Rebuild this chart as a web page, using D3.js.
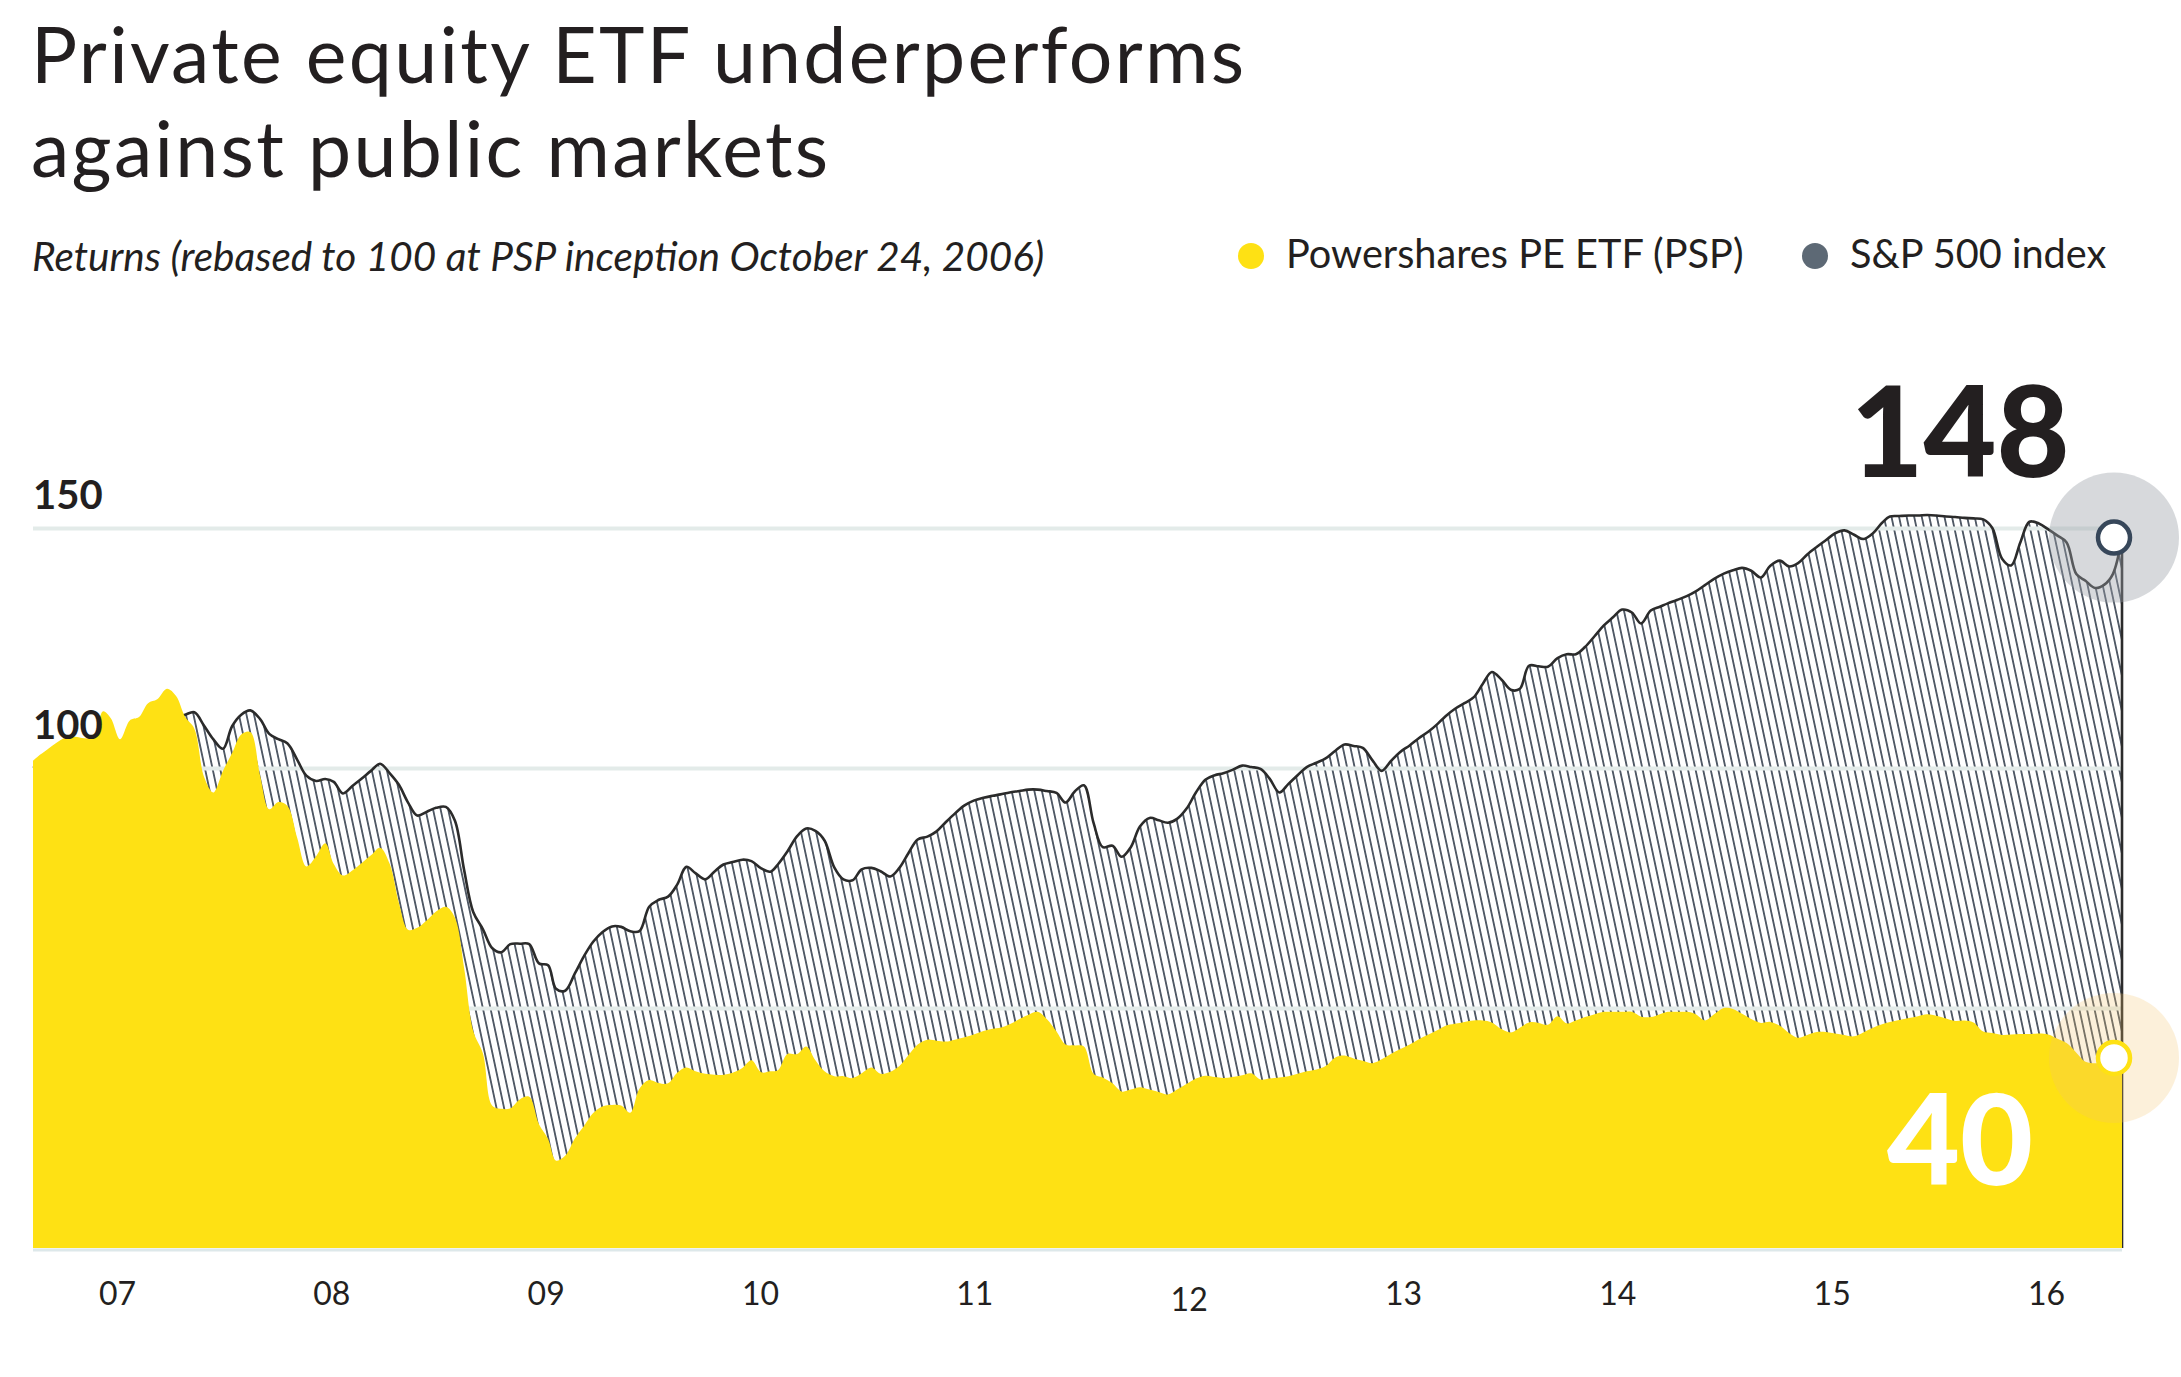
<!DOCTYPE html>
<html>
<head>
<meta charset="utf-8">
<script src="https://cdn.jsdelivr.net/npm/d3@7"></script>
<style>
  body { margin: 0; background: #fff; }
  svg { display: block; font-family: Lato, "Open Sans", sans-serif; }
</style>
</head>
<body>
<script>
// semi-monthly observations, rebased to 100 at PSP inception (Oct 24, 2006)
const dates = [
  "2006-10-24","2006-11-01","2006-11-16","2006-12-01","2006-12-16",
  "2007-01-01","2007-01-16","2007-02-01","2007-02-16","2007-03-01","2007-03-16","2007-04-01","2007-04-16","2007-05-01","2007-05-16","2007-06-01","2007-06-16",
  "2007-07-01","2007-07-16","2007-08-01","2007-08-16","2007-09-01","2007-09-16","2007-10-01","2007-10-16","2007-11-01","2007-11-16","2007-12-01","2007-12-16",
  "2008-01-01","2008-01-16","2008-02-01","2008-02-16","2008-03-01","2008-03-16","2008-04-01","2008-04-16","2008-05-01","2008-05-16","2008-06-01","2008-06-16",
  "2008-07-01","2008-07-16","2008-08-01","2008-08-16","2008-09-01","2008-09-16","2008-10-01","2008-10-16","2008-11-01","2008-11-16","2008-12-01","2008-12-16",
  "2009-01-01","2009-01-16","2009-02-01","2009-02-16","2009-03-01","2009-03-16","2009-04-01","2009-04-16","2009-05-01","2009-05-16","2009-06-01","2009-06-16",
  "2009-07-01","2009-07-16","2009-08-01","2009-08-16","2009-09-01","2009-09-16","2009-10-01","2009-10-16","2009-11-01","2009-11-16","2009-12-01","2009-12-16",
  "2010-01-01","2010-01-16","2010-02-01","2010-02-16","2010-03-01","2010-03-16","2010-04-01","2010-04-16","2010-05-01","2010-05-16","2010-06-01","2010-06-16",
  "2010-07-01","2010-07-16","2010-08-01","2010-08-16","2010-09-01","2010-09-16","2010-10-01","2010-10-16","2010-11-01","2010-11-16","2010-12-01","2010-12-16",
  "2011-01-01","2011-01-16","2011-02-01","2011-02-16","2011-03-01","2011-03-16","2011-04-01","2011-04-16","2011-05-01","2011-05-16","2011-06-01","2011-06-16",
  "2011-07-01","2011-07-16","2011-08-01","2011-08-16","2011-09-01","2011-09-16","2011-10-01","2011-10-16","2011-11-01","2011-11-16","2011-12-01","2011-12-16",
  "2012-01-01","2012-01-16","2012-02-01","2012-02-16","2012-03-01","2012-03-16","2012-04-01","2012-04-16","2012-05-01","2012-05-16","2012-06-01","2012-06-16",
  "2012-07-01","2012-07-16","2012-08-01","2012-08-16","2012-09-01","2012-09-16","2012-10-01","2012-10-16","2012-11-01","2012-11-16","2012-12-01","2012-12-16",
  "2013-01-01","2013-01-16","2013-02-01","2013-02-16","2013-03-01","2013-03-16","2013-04-01","2013-04-16","2013-05-01","2013-05-16","2013-06-01","2013-06-16",
  "2013-07-01","2013-07-16","2013-08-01","2013-08-16","2013-09-01","2013-09-16","2013-10-01","2013-10-16","2013-11-01","2013-11-16","2013-12-01","2013-12-16",
  "2014-01-01","2014-01-16","2014-02-01","2014-02-16","2014-03-01","2014-03-16","2014-04-01","2014-04-16","2014-05-01","2014-05-16","2014-06-01","2014-06-16",
  "2014-07-01","2014-07-16","2014-08-01","2014-08-16","2014-09-01","2014-09-16","2014-10-01","2014-10-16","2014-11-01","2014-11-16","2014-12-01","2014-12-16",
  "2015-01-01","2015-01-16","2015-02-01","2015-02-16","2015-03-01","2015-03-16","2015-04-01","2015-04-16","2015-05-01","2015-05-16","2015-06-01","2015-06-16",
  "2015-07-01","2015-07-16","2015-08-01","2015-08-16","2015-09-01","2015-09-16","2015-10-01","2015-10-16","2015-11-01","2015-11-16","2015-12-01","2015-12-16",
  "2016-01-01","2016-01-16","2016-02-01","2016-02-16","2016-03-01","2016-03-16"
];

const spValues = [
  100, 100.4, 101.2, 102.1, 102.8,
  103.5, 103.3, 103, 103.5, 104, 105, 106.2, 107.7, 109.1, 109.6, 110, 110.5,
  111.1, 111.6, 108.8, 106, 104, 108.7, 111.1, 112, 110.2, 107.1, 106, 105.1,
  101.7, 98.4, 97.3, 97.7, 97.1, 94.7, 96.3, 97.8, 99.4, 100.9, 98.9, 96.5,
  92.8, 90.1, 90.9, 91.7, 91.9, 89, 78.8, 70, 66.4, 62.5, 61.6, 63.3,
  63.4, 63.3, 59.3, 58.9, 54, 53.6, 57.2, 60.8, 63.8, 65.8, 67, 66.9,
  66, 66, 71.1, 72.5, 73.2, 75.7, 79.4, 78.1, 76.8, 78.4, 79.9, 80.4,
  80.9, 80.6, 79.1, 78.4, 80, 82.6, 85.8, 87.4, 86.9, 84.9, 79.3, 76.8,
  76.6, 78.9, 79.2, 78.5, 77.4, 79.2, 82.3, 85.1, 85.7, 86.8, 88.7, 90.5,
  92.2, 93.2, 93.8, 94.2, 94.5, 94.9, 95.2, 95.5, 95.5, 95.2, 94.8, 92.8,
  95.1, 96.4, 88.5, 83.5, 83.8, 81.5, 83.5, 87.8, 89.6, 89.1, 88.6, 89.4,
  91.6, 94.9, 97.6, 98.5, 98.9, 99.6, 100.5, 100.2, 99.8, 97.8, 94.9, 96.7,
  98.5, 100.2, 101.1, 102, 103.6, 104.9, 104.6, 104.2, 101.6, 99.4, 101.4, 103.3,
  104.7, 106.2, 107.6, 109.2, 110.8, 112.3, 113.5, 114.7, 117.5, 120, 118.4, 116.3,
  116.5, 121.3, 121.2, 121.1, 122.9, 123.7, 123.7, 125.2, 127.5, 129.7, 131.4, 133,
  132.4, 130.1, 132.8, 133.6, 134.3, 135, 135.8, 136.8, 138.1, 139.4, 140.5, 141.2,
  141.7, 141.1, 139.7, 142.1, 143.2, 142, 142.7, 144.5, 146.1, 147.5, 148.9, 149.5,
  148.6, 147.7, 148.9, 151.1, 152.4, 152.5, 152.6, 152.6, 152.7, 152.6, 152.4, 152.3,
  152.1, 152, 151.8, 150, 143.6, 142.2, 147, 151.3, 150.9, 149.7, 148.4, 147,
  140.4, 139, 137.5, 138.2, 140.4, 148
];

const pspValues = [
  101.5, 102.4, 103.8, 105.2, 106.3,
  106.5, 106.2, 106.3, 111.8, 110.3, 106, 109.9, 110.6, 113.5, 114.3, 116.5, 115,
  110.6, 108.2, 98.1, 94.9, 99.4, 103.1, 107, 107.5, 98.4, 91.4, 92.9, 92.1,
  85.4, 79.5, 81.6, 84.3, 80, 77.6, 78.7, 80.2, 81.8, 83.4, 80, 71.9,
  66.3, 66.7, 68.3, 70.1, 71.1, 68.8, 58.4, 45.2, 40.5, 29.7, 29, 29.1,
  31, 31.5, 25.8, 22.7, 18.2, 19.2, 22.8, 25.4, 28.1, 29.5, 29.8, 29.7,
  28.2, 33.2, 35, 34.4, 34.3, 36.5, 37.6, 36.8, 36.3, 36.1, 36.1, 36.5,
  37.5, 39.1, 36.6, 36.8, 37.1, 40.4, 40.4, 42, 39.1, 36.8, 35.8, 35.8,
  35.4, 36.4, 37.6, 36.3, 36.7, 37.9, 40.2, 42.4, 43.4, 43.2, 43, 43.4,
  43.9, 44.5, 45.2, 45.7, 45.9, 46.6, 47.7, 48.6, 49.2, 47.7, 45.1, 42.4,
  42.2, 42, 36.3, 35.5, 34.3, 32.6, 33, 33.5, 33, 32.5, 32, 33,
  34.2, 35.3, 35.9, 35.6, 35.4, 35.6, 36, 36.4, 35.1, 35.3, 35.5, 35.8,
  36.3, 36.8, 37.2, 37.9, 39.7, 40.1, 39.5, 39, 38.5, 39.3, 40.4, 41.4,
  42.4, 43.5, 44.5, 45.4, 46.3, 46.7, 47.1, 47.4, 47.4, 47, 45.6, 44.9,
  45.9, 47, 46.9, 46.5, 48.3, 46.8, 47.4, 48.1, 48.7, 49.2, 49.2, 49.2,
  49.2, 48.2, 48.1, 48.7, 49.2, 49.2, 49.2, 48.7, 47.4, 48.7, 50, 49.8,
  48.8, 47.7, 46.9, 47.1, 46.3, 44.8, 43.8, 44.4, 45, 45, 44.7, 44.4,
  44.1, 44.9, 45.9, 46.6, 47.1, 47.5, 47.9, 48.3, 48.7, 48.4, 47.8, 47.3,
  47.4, 47, 45.1, 44.8, 44.4, 44.5, 44.6, 44.6, 44.7, 44.5, 43.6, 42.7,
  40.7, 38.8, 38.5, 38.7, 39, 39.6
];

const yearLabels = ["07", "08", "09", "10", "11", "12", "13", "14", "15", "16"];
const gridValues = [50, 100, 150];
const labelValues = [100, 150];
const seriesNames = ["Powershares PE ETF (PSP)", "S&P 500 index"];

const ink = "#231f20";
const yellow = "#fee114";
const slate = "#5d6975";

const svg = d3.select("body").append("svg")
  .attr("width", 2181)
  .attr("height", 1377);

const parseDate = d3.timeParse("%Y-%m-%d");
const rows = dates.map((d, i) => ({ date: parseDate(d), sp: spValues[i], psp: pspValues[i] }));
const last = rows[rows.length - 1];

const x = d3.scaleTime().domain([rows[0].date, last.date]).range([33, 2122]);
const y = d3.scaleLinear().domain([0, 150]).range([1248, 528]);
const xYears = d3.scalePoint().domain(yearLabels).range([117, 2046]);
const curve = d3.curveCatmullRom.alpha(0.5);

// hatch for the S&P area
svg.append("defs").append("pattern")
  .attr("id", "hatch")
  .attr("patternUnits", "userSpaceOnUse")
  .attr("width", 7.4)
  .attr("height", 10)
  .attr("patternTransform", "rotate(-12)")
  .append("line")
  .attr("x1", 3.7).attr("x2", 3.7)
  .attr("y1", -1).attr("y2", 11)
  .attr("stroke", "#4b5461")
  .attr("stroke-width", 1.8);

// titles
svg.append("text").attr("x", 31).attr("y", 83)
  .attr("font-size", 77).attr("letter-spacing", 2.3).attr("fill", ink)
  .text("Private equity ETF underperforms");
svg.append("text").attr("x", 31).attr("y", 177)
  .attr("font-size", 77).attr("letter-spacing", 2.3).attr("fill", ink)
  .text("against public markets");
svg.append("text").attr("x", 32).attr("y", 271)
  .attr("font-size", 40.5).attr("font-style", "italic").attr("fill", ink)
  .text("Returns (rebased to 100 at PSP inception October 24, 2006)");

// legend
var legend = svg.append("g").selectAll("g")
  .data(seriesNames)
  .enter().append("g")
  .attr("transform", (d, i) => `translate(${i === 0 ? 1251 : 1815},256)`);
legend.append("circle").attr("r", 13).attr("fill", (d, i) => i === 0 ? yellow : slate);
legend.append("text").attr("x", 35).attr("y", 12)
  .attr("font-size", 39.7).attr("fill", ink)
  .text(d => d);

// S&P hatched area
svg.append("path").datum(rows)
  .attr("fill", "url(#hatch)")
  .attr("d", d3.area().x(d => x(d.date)).y0(y(0)).y1(d => y(d.sp)).curve(curve));

// gridlines
svg.append("g")
  .attr("transform", `translate(${x.range()[0]},0)`)
  .call(d3.axisRight(y).tickValues(gridValues).tickSize(x.range()[1] - x.range()[0]).tickFormat(""))
  .call(g => g.select(".domain").remove())
  .call(g => g.selectAll("line").attr("stroke", "#e3ebe9").attr("stroke-width", 4));

// S&P line with the closing edge on the right
var spLine = d3.line().x(d => x(d.date)).y(d => y(d.sp)).curve(curve);
svg.append("path")
  .attr("d", spLine(rows) + `L${x(last.date)},${y(0)}`)
  .attr("fill", "none")
  .attr("stroke", "#2b2b2b")
  .attr("stroke-width", 2.6)
  .attr("stroke-linejoin", "round");

// PSP area
svg.append("path").datum(rows)
  .attr("fill", yellow)
  .attr("d", d3.area().x(d => x(d.date)).y0(y(0)).y1(d => y(d.psp)).curve(curve));

// baseline
svg.append("line")
  .attr("x1", x.range()[0]).attr("x2", x.range()[1])
  .attr("y1", y(0) + 2).attr("y2", y(0) + 2)
  .attr("stroke", "#dde8ea").attr("stroke-width", 3);

// y labels
svg.append("g")
  .attr("transform", `translate(${x.range()[0]},0)`)
  .call(d3.axisRight(y).tickValues(labelValues).tickSize(0).tickPadding(0))
  .call(g => g.select(".domain").remove())
  .call(g => g.selectAll("text")
    .attr("dy", null).attr("y", d => d === 100 ? -30 : -20)
    .attr("font-family", "Lato").attr("font-size", 40).attr("font-weight", 700)
    .attr("fill", ink));

// x labels
svg.append("g")
  .attr("transform", `translate(0,${y(0)})`)
  .call(d3.axisBottom(xYears).tickSize(0).tickPadding(0))
  .call(g => g.select(".domain").remove())
  .call(g => g.selectAll("text")
    .attr("dy", null).attr("y", d => d === "12" ? 63 : 57)
    .attr("font-family", "Lato").attr("font-size", 32)
    .attr("fill", ink));

// end markers
var ends = [
  { value: last.sp, halo: "#9aa0a8", haloOpacity: 0.4, stroke: "#37475a", text: ink, dy: -61 },
  { value: last.psp, halo: "#f5c26b", haloOpacity: 0.25, stroke: yellow, text: "#fff", dy: 127 }
];
var ex = x(last.date) - 8;
ends.forEach(function (e) {
  svg.append("circle").attr("cx", ex).attr("cy", y(e.value)).attr("r", 65)
    .attr("fill", e.halo).attr("fill-opacity", e.haloOpacity);
  svg.append("circle").attr("cx", ex).attr("cy", y(e.value)).attr("r", 16)
    .attr("fill", "#fff").attr("stroke", e.stroke).attr("stroke-width", 4.5);
  svg.append("text")
    .attr("x", ex - 154).attr("y", y(e.value) + e.dy)
    .attr("text-anchor", "middle")
    .attr("font-size", 126).attr("font-weight", 900)
    .attr("fill", e.text)
    .text(d3.format(".0f")(e.value));
});
</script>
</body>
</html>
